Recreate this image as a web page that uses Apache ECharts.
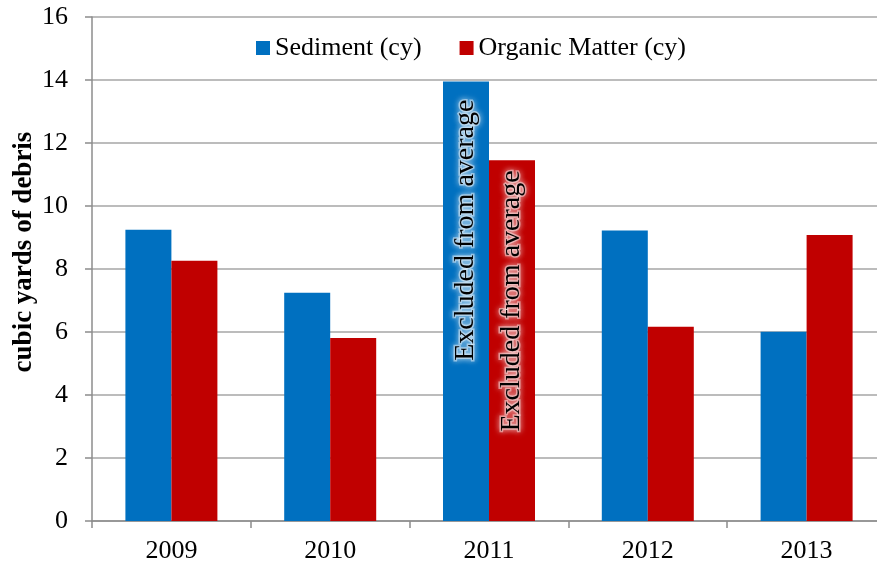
<!DOCTYPE html>
<html>
<head>
<meta charset="utf-8">
<script src="https://cdn.jsdelivr.net/npm/echarts@6/dist/echarts.min.js"></script>
<style>
html,body{margin:0;padding:0;background:#fff;overflow:hidden;width:877px;height:567px;}
#chart{width:892px;height:567px;}
</style>
</head>
<body>
<div id="chart"></div>
<script>
const categories = ['2009', '2010', '2011', '2012', '2013'];
const sediment = [9.25, 7.25, 13.95, 9.22, 6.01];
const organic = [8.26, 5.81, 11.45, 6.17, 9.08];
const seriesNames = ['Sediment (cy)', 'Organic Matter (cy)'];
const yTicks = { min: 0, max: 16, interval: 2 };
const yAxisTitle = 'cubic yards of debris';
const excludedIndex = 2;
const excludedText = 'Excluded from average';

const FONT = '"Liberation Serif", "Times New Roman", serif';

function withLabel(values, dist) {
  return values.map((v, i) => {
    if (i !== excludedIndex) return v;
    return {
      value: v,
      label: {
        show: true,
        position: 'insideTop',
        distance: dist,
        rotate: 90,
        align: 'right',
        verticalAlign: 'middle',
        formatter: excludedText,
        fontFamily: FONT,
        fontSize: 28,
        color: '#000',
        textBorderColor: 'rgba(255,255,255,0.45)',
        textBorderWidth: 3,
        textShadowColor: 'rgba(255,255,255,0.9)',
        textShadowBlur: 6
      }
    };
  });
}

const chart = echarts.init(document.getElementById('chart'), null, { renderer: 'canvas' });
chart.setOption({
  animation: false,
  backgroundColor: '#fff',
  grid: { left: 92, top: 17, width: 794, height: 504, containLabel: false },
  legend: {
    left: 256,
    top: 35,
    padding: 0,
    itemWidth: 14,
    itemHeight: 14,
    itemGap: 38,
    icon: 'rect',
    textStyle: { fontFamily: FONT, fontSize: 26, color: '#000' },
    data: seriesNames
  },
  graphic: [{
    type: 'text',
    x: 24,
    y: 252,
    rotation: Math.PI / 2,
    style: {
      text: yAxisTitle,
      font: 'bold 27px ' + FONT,
      fill: '#000',
      align: 'center',
      verticalAlign: 'middle'
    }
  }],
  xAxis: {
    type: 'category',
    data: categories,
    axisLine: { lineStyle: { color: '#8c8c8c', width: 1.5 } },
    axisTick: { show: true, length: 7, lineStyle: { color: '#8c8c8c', width: 1.5 } },
    axisLabel: { fontFamily: FONT, fontSize: 26, color: '#000', margin: 17 }
  },
  yAxis: {
    type: 'value',
    min: yTicks.min,
    max: yTicks.max,
    interval: yTicks.interval,
    axisLine: { show: true, lineStyle: { color: '#8c8c8c', width: 1.5 } },
    axisTick: { show: true, length: 7, lineStyle: { color: '#8c8c8c', width: 1.5 } },
    axisLabel: { fontFamily: FONT, fontSize: 26, color: '#000', margin: 24 },
    splitLine: { show: true, lineStyle: { color: '#a6a6a6', width: 1.5 } }
  },
  series: [
    {
      name: seriesNames[0],
      type: 'bar',
      data: withLabel(sediment, 18),
      barWidth: 46,
      barGap: '0%',
      itemStyle: { color: '#0070C0' }
    },
    {
      name: seriesNames[1],
      type: 'bar',
      data: withLabel(organic, 10),
      barWidth: 46,
      barGap: '0%',
      itemStyle: { color: '#C00000' }
    }
  ]
});
</script>
</body>
</html>
